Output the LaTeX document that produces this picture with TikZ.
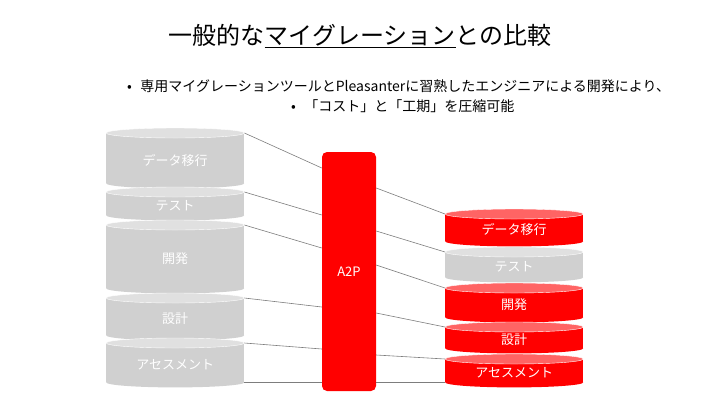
\documentclass[tikz,border=0pt]{standalone}
\usepackage{fontspec}
\setmainfont{Noto Sans CJK JP}
\usetikzlibrary{backgrounds}

\definecolor{partgray}{RGB}{208,208,208}
\definecolor{partgraytop}{RGB}{224,224,224}
\definecolor{partred}{RGB}{255,0,0}
\definecolor{partredtop}{RGB}{255,100,100}
\definecolor{linkgray}{RGB}{125,125,125}

\tikzset{
  partlabel/.style={text=white, font=\fontsize{13}{15}\selectfont, inner sep=0pt,
    minimum width=138pt, anchor=north west},
  bullettext/.style={font=\fontsize{14}{16}\selectfont, inner sep=0pt, anchor=west},
  link/.style={draw=linkgray, line width=0.6pt}
}

% one slice of a stack: name, x left, y top centre, y bottom centre, body, top, label
\newcommand\stackpart[7]{%
  \node[partlabel, minimum height={(#4-#3)*1pt}] (#1) at (#2,#3) {\raisebox{-2pt}[\height][\depth]{#7}};
  \begin{pgfonlayer}{background}
    \fill[#5] (#1.north west) rectangle (#1.south east);
    \fill[#5] (#1.south) ellipse[x radius=69pt, y radius=5pt];
    \fill[#6, draw=white, line width=0.4pt] (#1.north) ellipse[x radius=69pt, y radius=5pt];
  \end{pgfonlayer}
}

\begin{document}
\begin{tikzpicture}[x=1pt,y=-1pt]
\useasboundingbox (0,0) rectangle (720,405);

% title and notes
\node[font=\fontsize{24}{28}\selectfont] (title) at (360,36) {一般的な\underline{マイグレーション}との比較};
\node[bullettext] (note1) at (127,86) {•\hspace{0.6em}専用マイグレーションツールとPleasanterに習熟したエンジニアによる開発により、};
\node[bullettext] (note2) at (291,106) {•\hspace{0.6em}「コスト」と「工期」を圧縮可能};

% usual migration
\stackpart{l1}{106}{133}{183}{partgray}{partgraytop}{データ移行}
\stackpart{l2}{106}{192}{215}{partgray}{partgraytop}{テスト}
\stackpart{l3}{106}{225}{288}{partgray}{partgraytop}{開発}
\stackpart{l4}{106}{298}{335}{partgray}{partgraytop}{設計}
\stackpart{l5}{106}{343}{382}{partgray}{partgraytop}{アセスメント}

% A2P
\node[fill=partred, rounded corners=5pt, minimum width=54pt, minimum height=239pt,
  inner sep=0pt, text=white, font=\fontsize{13}{15}\selectfont] (a2p) at (349,271.5) {A2P};

% with A2P
\stackpart{r1}{445}{214}{241}{partred}{partredtop}{データ移行}
\stackpart{r2}{445}{252}{277}{partgray}{partgraytop}{テスト}
\stackpart{r3}{445}{288}{317}{partred}{partredtop}{開発}
\stackpart{r4}{445}{327}{348}{partred}{partredtop}{設計}
\stackpart{r5}{445}{359}{382}{partred}{partredtop}{アセスメント}

% links
\foreach \n/\yl/\yr in {1/168/188, 2/215/231, 3/248/265, 4/307/313, 5/349/355} {
  \draw[link] (l\n.north east) -- (a2p.west |- 0,\yl);
  \draw[link] (a2p.east |- 0,\yr) -- (r\n.north west);
}
\draw[link] (l5.south east) -- (a2p.west |- l5.south east);
\draw[link] (a2p.east |- r5.south west) -- (r5.south west);
\end{tikzpicture}
\end{document}
